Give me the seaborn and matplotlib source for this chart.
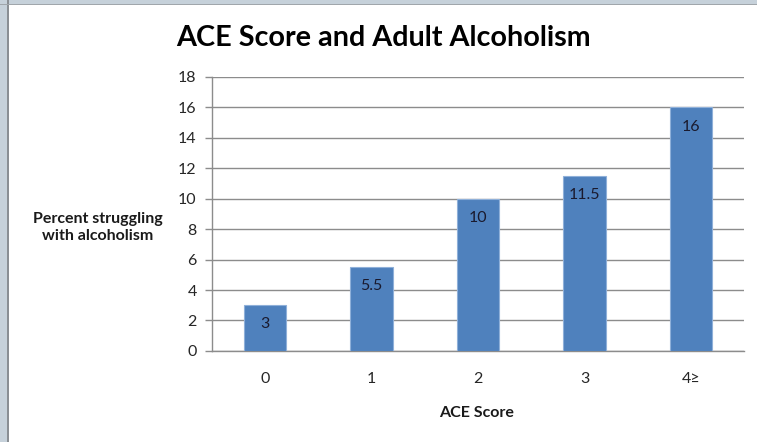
import matplotlib
matplotlib.use("Agg")
import matplotlib.pyplot as plt
import seaborn as sns
import pandas as pd
from matplotlib.patches import Rectangle

# Data
ace_scores = ["0", "1", "2", "3", "4\u2265"]
percent_alcoholism = [3, 5.5, 10, 11.5, 16]
y_ticks = [0, 2, 4, 6, 8, 10, 12, 14, 16, 18]

df = pd.DataFrame({"ACE Score": ace_scores, "Percent": percent_alcoholism})

sns.set_theme(style="white")
plt.rcParams["font.family"] = ["Lato", "DejaVu Sans"]

fig = plt.figure(figsize=(7.57, 4.42), dpi=100)
ax = fig.add_axes([0.280, 0.206, 0.703, 0.620])

sns.barplot(data=df, x="ACE Score", y="Percent", color="#4F81BD",
            width=0.4, saturation=1, edgecolor="#8FB0D9", linewidth=0.8,
            ax=ax, zorder=3)

ax.set_ylim(0, 18)
ax.set_xlim(-0.5, 4.5)
ax.set_yticks(y_ticks)
ax.yaxis.grid(True, color="#8c8c8c", linewidth=1.0, zorder=0)
ax.set_axisbelow(True)

for side in ["top", "right"]:
    ax.spines[side].set_visible(False)
ax.spines["left"].set_color("#8c8c8c")
ax.spines["bottom"].set_color("#8c8c8c")
ax.spines["left"].set_linewidth(1.0)
ax.spines["bottom"].set_linewidth(1.0)

ax.tick_params(axis="y", which="major", left=True, length=5, width=1.0,
               color="#8c8c8c", labelsize=11.5, labelcolor="#262626", pad=6)
ax.tick_params(axis="x", bottom=False, length=0, labelsize=11.5,
               labelcolor="#262626", pad=15.5)

# Value labels just inside the top of each bar
for i, v in enumerate(percent_alcoholism):
    ax.text(i, v - 0.8, f"{v:g}", ha="center", va="top", fontsize=11.5,
            color="#1a1a2e", zorder=4)

ax.set_xlabel("")
ax.set_ylabel("")
fig.text(0.630, 0.066, "ACE Score", ha="center", va="center",
         fontsize=11.5, fontweight="bold", color="#1a1a1a")
fig.text(0.1295, 0.486, "Percent struggling\nwith alcoholism", ha="center",
         va="center", fontsize=11.5, fontweight="bold", color="#1a1a1a",
         linespacing=1.3)
fig.text(0.506, 0.913, "ACE Score and Adult Alcoholism", ha="center",
         va="center", fontsize=20.7, fontweight="bold", color="#000000")

# Window frame along the top and left edges
fig.patches.append(Rectangle((0, 0), 8 / 757, 1, transform=fig.transFigure,
                             facecolor="#c6d1da", edgecolor="none", zorder=10))
fig.patches.append(Rectangle((7 / 757, 0), 1.5 / 757, 1, transform=fig.transFigure,
                             facecolor="#8a8f94", edgecolor="none", zorder=11))
fig.patches.append(Rectangle((0, 1 - 4 / 442), 1, 4 / 442, transform=fig.transFigure,
                             facecolor="#c6d1da", edgecolor="none", zorder=10))
fig.patches.append(Rectangle((0, 1 - 5 / 442), 1, 1.2 / 442, transform=fig.transFigure,
                             facecolor="#a0a6ab", edgecolor="none", zorder=11))

fig.savefig("out.png", dpi=100, facecolor="white")
